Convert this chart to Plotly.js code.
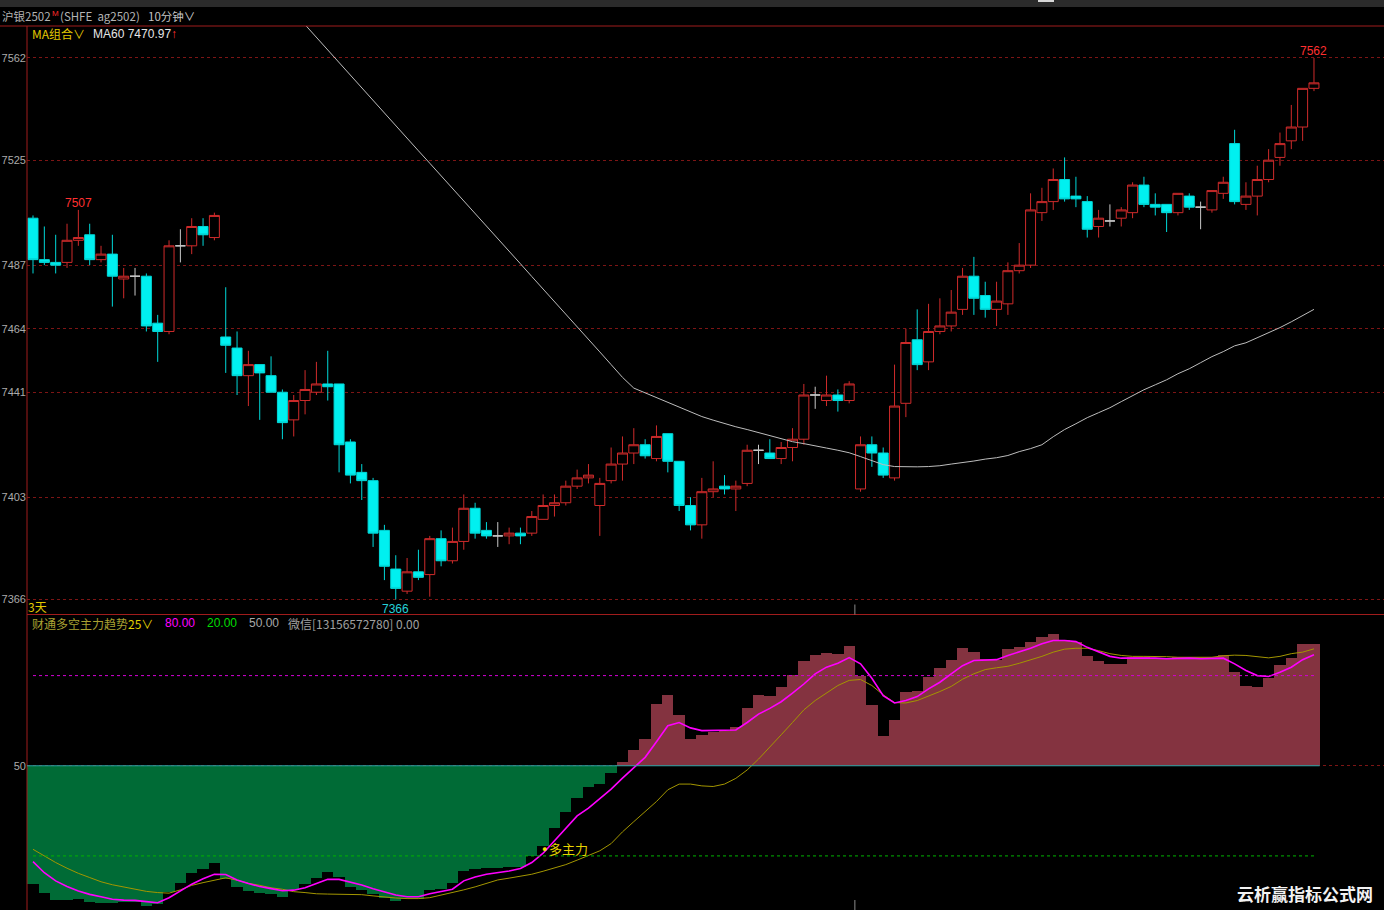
<!DOCTYPE html>
<html><head><meta charset="utf-8">
<script src="https://cdn.plot.ly/plotly-3.0.1.min.js"></script>
<style>html,body{margin:0;padding:0;background:#000;overflow:hidden}#chart{width:1384px;height:910px}</style>
</head><body><div id="chart"></div>
<script>
// ---------- data (10-minute candles, 沪银2502) ----------
const opens = [7504,7489,7488,7488,7496,7498,7489,7491,7482,7483,
7483,7466,7463,7494,7494,7501,7497,7461,7457,7447,
7451,7447,7441,7431,7438,7441,7444,7444,7423,7412,
7409,7391,7377,7369,7376,7375,7388,7380,7387,7399,
7391,7389,7389,7390,7390,7395,7400,7401,7407,7410,
7400,7409,7415,7419,7422,7417,7426,7416,7400,7393,
7405,7407,7406,7408,7420,7419,7417,7421,7424,7440,
7438,7440,7438,7406,7422,7419,7410,7437,7460,7452,
7463,7465,7471,7483,7476,7471,7473,7485,7487,7506,
7510,7518,7512,7510,7501,7503,7504,7506,7516,7509,
7509,7506,7512,7508,7507,7513,7531,7509,7512,7518,
7526,7532,7537,7551];
const highs = [7505,7501,7498,7502,7507,7502,7494,7498,7486,7486,
7484,7469,7496,7500,7504,7504,7506,7479,7463,7456,
7451,7454,7442,7440,7449,7452,7456,7444,7424,7415,
7410,7393,7382,7381,7384,7389,7391,7392,7404,7401,
7394,7394,7392,7392,7398,7404,7404,7409,7413,7415,
7410,7421,7425,7428,7424,7429,7426,7416,7403,7410,
7416,7411,7409,7422,7422,7424,7423,7428,7444,7443,
7447,7442,7445,7425,7425,7421,7451,7464,7471,7473,
7475,7478,7486,7490,7481,7481,7488,7495,7513,7515,
7522,7526,7519,7512,7507,7509,7508,7517,7519,7513,
7509,7513,7513,7510,7514,7519,7536,7517,7523,7529,
7535,7545,7551,7562];
const lows = [7484,7487,7484,7486,7494,7487,7488,7472,7475,7476,
7463,7452,7462,7488,7491,7494,7496,7448,7440,7436,
7431,7441,7424,7425,7433,7440,7438,7412,7408,7402,
7385,7373,7366,7368,7373,7367,7378,7379,7384,7388,
7388,7385,7386,7386,7389,7395,7396,7400,7406,7408,
7389,7408,7409,7415,7417,7416,7412,7398,7391,7388,
7403,7404,7398,7407,7415,7417,7415,7416,7422,7435,
7436,7434,7437,7405,7414,7410,7409,7432,7449,7449,
7462,7463,7469,7469,7468,7465,7469,7484,7486,7503,
7507,7510,7508,7497,7497,7501,7501,7504,7508,7505,
7499,7505,7507,7500,7506,7511,7509,7507,7505,7517,
7523,7529,7532,7550];
const closes = [7489,7488,7487,7496,7497,7489,7491,7483,7483,7483,
7465,7463,7494,7494,7501,7498,7505,7458,7447,7451,
7448,7441,7430,7438,7442,7444,7443,7422,7411,7409,
7390,7378,7370,7376,7374,7388,7380,7387,7399,7390,
7389,7389,7390,7389,7396,7400,7401,7407,7410,7411,
7408,7415,7419,7422,7418,7425,7416,7400,7393,7405,
7406,7406,7407,7420,7420,7417,7421,7424,7440,7440,
7440,7438,7444,7422,7419,7411,7436,7459,7451,7463,
7465,7470,7483,7475,7471,7474,7485,7487,7507,7510,
7518,7511,7511,7500,7504,7503,7507,7516,7509,7508,
7506,7513,7508,7508,7514,7517,7510,7512,7518,7525,
7531,7537,7551,7553];
// MA60 (null where above the visible window start)
const ma60 = [null,null,null,null,null,null,null,null,null,null,
null,null,null,null,null,null,null,null,null,null,
null,null,null,7578.6,7574.0,7569.5,7564.9,7560.3,7555.8,7551.2,
7546.7,7542.1,7537.6,7533.0,7528.4,7523.9,7519.4,7514.8,7510.2,7505.7,
7501.1,7496.6,7492.1,7487.5,7482.9,7478.4,7473.8,7469.2,7464.7,7460.1,
7455.6,7451.0,7446.4,7442.5,7440.8,7439.0,7437.4,7435.8,7434.0,7432.2,
7430.9,7429.6,7428.5,7427.5,7426.4,7425.3,7424.2,7423.1,7422.4,7421.7,
7420.8,7420.0,7419.1,7417.7,7416.2,7414.8,7414.1,7414.0,7414.0,7414.1,
7414.4,7415.0,7415.5,7416.1,7416.8,7417.3,7418.1,7419.5,7420.6,7422.0,
7424.9,7427.5,7429.6,7431.8,7433.6,7435.4,7437.6,7439.8,7441.9,7443.7,
7445.5,7447.7,7449.5,7451.7,7453.9,7455.7,7457.8,7458.9,7460.7,7462.5,
7464.4,7466.5,7468.7,7471.0];
// 财通多空主力趋势 indicator
const trendBars = [10.6,7.8,5.3,5.3,5.6,4.7,4.2,4.4,4.7,4.7,
3.3,3.9,8.0,11.1,14.2,15.8,17.8,12.2,9.8,8.3,
7.8,7.2,6.4,8.7,10.6,12.8,14.7,13.1,9.8,8.7,
7.2,6.1,5.0,5.8,5.8,8.7,9.1,11.1,15.0,15.6,
15.9,15.9,16.4,16.4,20.0,23.3,29.4,34.7,39.4,42.8,
43.9,47.6,51.3,55.2,58.9,70.6,73.6,67.0,58.9,60.2,
61.1,61.7,62.8,69.1,73.6,73.3,76.3,80.3,84.7,86.9,
87.6,87.2,89.8,80.0,70.2,59.8,65.3,74.7,75.0,79.4,
82.4,85.3,89.2,88.0,85.6,85.3,88.7,89.4,91.1,92.8,
93.9,91.7,91.1,86.4,84.8,83.7,83.9,86.1,86.1,85.6,
85.6,86.1,86.1,86.1,86.1,86.7,81.3,76.4,76.3,79.1,
83.6,85.8,90.6,90.6];
const trendFast = [18.1,14.4,11.7,9.8,8.3,7.2,6.4,5.6,5.3,5.2,
4.8,4.4,6.1,8.3,10.6,12.4,13.9,13.8,12.0,10.8,
9.8,9.1,8.4,8.6,9.4,10.8,12.2,12.2,11.3,10.3,
9.1,8.0,7.0,6.4,6.4,7.4,8.2,8.9,11.7,13.0,
13.9,14.4,15.0,15.8,17.8,20.9,25.0,29.2,33.3,35.9,
38.9,42.2,45.9,49.4,52.8,58.0,63.3,64.4,62.6,61.7,
61.7,61.7,61.9,64.4,67.2,69.1,71.3,74.2,77.2,80.6,
82.8,84.1,86.0,83.9,79.1,73.3,70.9,71.7,73.0,75.6,
77.8,80.6,83.3,85.0,85.2,85.3,86.7,87.8,89.1,90.6,
91.7,91.7,91.3,89.4,87.8,86.4,85.8,85.8,85.9,85.8,
85.6,85.8,85.8,85.6,85.8,85.8,83.9,81.7,80.0,79.7,
81.1,82.8,85.3,86.9];
const trendSlow = [22.2,20.0,17.8,15.9,14.2,12.8,11.4,10.4,9.6,8.9,
8.2,7.8,7.6,8.7,10.2,11.1,12.0,12.7,11.9,10.9,
10.2,9.4,8.9,8.1,7.8,7.4,7.3,7.3,7.2,7.1,
6.7,6.3,6.0,5.8,5.8,6.1,6.9,7.7,8.7,9.7,
10.8,12.0,12.6,13.2,13.9,14.9,16.0,17.1,18.6,20.2,
21.7,24.1,28.0,31.4,34.7,38.1,42.0,43.9,43.9,43.3,
43.1,43.9,45.8,48.6,52.2,56.1,60.3,64.4,68.6,71.7,
74.2,76.7,78.4,78.7,76.7,73.6,71.0,70.9,71.7,73.1,
74.7,76.4,78.8,80.6,82.0,82.6,83.1,84.1,85.2,86.4,
87.8,88.8,89.1,89.1,88.3,87.3,86.7,86.4,86.4,86.4,
86.3,86.1,86.1,86.1,86.1,86.6,86.8,86.7,86.2,85.9,
86.4,87.3,87.8,88.9];
const priceTicks = [7366,7403,7441,7464,7487,7525,7562];
const trendTicks = [50];
const levelHigh = 80, levelMid = 50, levelLow = 20;
const firstSessionLen = 17;   // candles before the first session break
const dayBreak = 73;          // first candle of the new trading day

// ---------- geometry helpers ----------
const W = 1384, H = 910, ML = 27, MT = 26;
const PW = W - ML, PH = H - MT;
const px = x => (x - ML) / PW;
const py = y => (H - y) / PH;
const split = py(614.5);

const idx = opens.map((_, i) => i);
const n = idx.length;
const mainIdx = idx.filter(i => opens[i] !== closes[i]);
const dojiIdx = idx.filter(i => opens[i] === closes[i]);
const pick = (arr, sel) => sel.map(i => arr[i]);

const RED = '#cf2b2b', CYAN = '#00f0f0';
const BAR_RED = '#843340', BAR_GREEN = '#006b36';
const GRID_RED = '#7d1515';

const traces = [
  {type:'bar', x: idx, y: trendBars.map(v => v - levelMid), base: levelMid, width: 1,
   marker:{color: trendBars.map(v => v >= levelMid ? BAR_RED : BAR_GREEN), line:{width:0}},
   xaxis:'x', yaxis:'y2', hoverinfo:'skip'},
  {type:'scatter', mode:'lines', x: idx, y: trendSlow, line:{color:'#a39600', width:1},
   xaxis:'x', yaxis:'y2', hoverinfo:'skip'},
  {type:'scatter', mode:'lines', x: idx, y: trendFast, line:{color:'#ff00ff', width:1.6},
   xaxis:'x', yaxis:'y2', hoverinfo:'skip'},
  {type:'scatter', mode:'lines', x: idx, y: ma60, line:{color:'#bdbdbd', width:1},
   xaxis:'x', yaxis:'y', hoverinfo:'skip', connectgaps:false},
  {type:'candlestick', x: mainIdx, open: pick(opens, mainIdx), high: pick(highs, mainIdx),
   low: pick(lows, mainIdx), close: pick(closes, mainIdx),
   increasing:{line:{color:RED, width:1}, fillcolor:'#000000'},
   decreasing:{line:{color:'#00d8d8', width:1}, fillcolor:CYAN},
   xaxis:'x', yaxis:'y', hoverinfo:'skip'},
  {type:'candlestick', x: dojiIdx, open: pick(opens, dojiIdx), high: pick(highs, dojiIdx),
   low: pick(lows, dojiIdx), close: pick(closes, dojiIdx),
   increasing:{line:{color:'#c8c8c8', width:1}, fillcolor:'#c8c8c8'},
   decreasing:{line:{color:'#c8c8c8', width:1}, fillcolor:'#c8c8c8'},
   xaxis:'x', yaxis:'y', hoverinfo:'skip'}
];

const shapes = [
  {type:'rect', xref:'paper', yref:'paper', x0:px(0), x1:px(W), y0:py(0), y1:py(7), fillcolor:'#2b2b2b', line:{width:0}, layer:'below'},
  {type:'rect', xref:'paper', yref:'paper', x0:px(1038), x1:px(1054), y0:py(0), y1:py(2), fillcolor:'#d8d8d8', line:{width:0}},
  {type:'line', xref:'paper', yref:'paper', x0:px(0), x1:px(W), y0:1, y1:1, line:{color:'#a01c1c', width:1}},
  {type:'line', xref:'paper', yref:'paper', x0:0, x1:1, y0:split, y1:split, line:{color:'#a01c1c', width:1}},
  {type:'line', xref:'paper', yref:'paper', x0:0, x1:0, y0:0, y1:1, line:{color:'#a01c1c', width:1}},
  {type:'line', xref:'x', yref:'y2', x0:-0.53, x1:n - 0.5, y0:levelMid, y1:levelMid, line:{color:'#27a7a7', width:1}},
  {type:'line', xref:'x', yref:'y2', x0:0, x1:n - 1, y0:levelHigh, y1:levelHigh, line:{color:'#d400d4', width:1, dash:'dot'}},
  {type:'line', xref:'x', yref:'y2', x0:0, x1:n - 1, y0:levelLow, y1:levelLow, line:{color:'#00b400', width:1, dash:'dot'}},
  {type:'line', xref:'x', yref:'paper', x0:dayBreak - 0.5, x1:dayBreak - 0.5, y0:split, y1:split + 10 / PH, line:{color:'#8a8a8a', width:1}},
  {type:'line', xref:'x', yref:'paper', x0:dayBreak - 0.5, x1:dayBreak - 0.5, y0:0, y1:10 / PH, line:{color:'#8a8a8a', width:1}}
];

const CJK = '"Noto Sans CJK SC", "Liberation Sans", sans-serif';
const SANS = '"Liberation Sans", "Noto Sans CJK SC", sans-serif';
const txt = (text, x, y, color, size, family) => ({
  text, xref:'paper', yref:'paper', x: px(x), y: py(y), xanchor:'left', yanchor:'middle',
  showarrow:false, font:{family: family || CJK, size: size || 12, color}, borderpad:0
});

const hiIdx = highs.indexOf(Math.max(...highs));
const loIdx = lows.indexOf(Math.min(...lows));
const firstHi = highs.slice(0, firstSessionLen);
const firstHiIdx = firstHi.indexOf(Math.max(...firstHi));
const signalIdx = trendFast.findIndex(v => v > levelLow);

const annotations = [
  txt('沪银2502', 1, 16, '#b4b4b4', 11.5),
  txt('M', 51, 13, '#ff2a2a', 8, SANS),
  txt('(SHFE  ag2502)', 59, 16, '#b4b4b4', 11.5),
  txt('10分钟∨', 147, 16, '#c4c4c4', 11.5),
  txt('MA组合∨', 31, 34, '#e2c800', 12),
  txt('MA60 7470.97', 92, 34, '#e6e6e6', 12, SANS),
  txt('↑', 170, 34, '#ff3030', 12, SANS),
  txt('3天', 27, 606, '#e2c800', 12),
  txt('财通多空主力趋势', 31, 623, '#aaa032', 12),
  txt('25∨', 127, 623, '#e2d000', 12),
  txt('80.00', 164, 623, '#ff00ff', 12, SANS),
  txt('20.00', 206, 623, '#00dd00', 12, SANS),
  txt('50.00', 248, 623, '#a8a8a8', 12, SANS),
  txt('微信[13156572780] 0.00', 287, 623, '#a0a0a0', 12),
  txt('<b>云析赢指标公式网</b>', 1236, 893, '#f2f2f2', 17),
  {text: String(highs[firstHiIdx]), x: firstHiIdx, y: highs[firstHiIdx], xref:'x', yref:'y', yanchor:'bottom',
   yshift: -2, showarrow:false, font:{family: SANS, size:12, color:'#ff3030'}},
  {text: String(highs[hiIdx]), x: hiIdx, y: highs[hiIdx], xref:'x', yref:'y', yanchor:'bottom',
   yshift: -2, showarrow:false, font:{family: SANS, size:12, color:'#ff3030'}},
  {text: String(lows[loIdx]), x: loIdx, y: lows[loIdx], xref:'x', yref:'y', yanchor:'top',
   yshift: -1, showarrow:false, font:{family: SANS, size:12, color:'#25d0d8'}},
  {text: '●', x: signalIdx - 0.25, y: trendFast[signalIdx] + 1.5, xref:'x', yref:'y2',
   xanchor:'left', yanchor:'middle', showarrow:false, font:{family: SANS, size:9, color:'#f5e000'}},
  {text: '多主力', x: signalIdx + 0.35, y: trendFast[signalIdx] + 1.5, xref:'x', yref:'y2',
   xanchor:'left', yanchor:'middle', showarrow:false, font:{family: CJK, size:13, color:'#e8d400'}}
];

const layout = {
  width: W, height: H, paper_bgcolor:'#000', plot_bgcolor:'#000',
  margin:{l: ML, r: 0, t: MT, b: 0}, showlegend:false,
  bargap: 0, boxgap: 0.12, boxgroupgap: 0, boxmode:'overlay',
  xaxis:{range:[-0.53, (W - 33) / 11.336], showgrid:false, zeroline:false, showticklabels:false,
         ticks:'', showline:false, rangeslider:{visible:false}, anchor:'y2', fixedrange:true},
  yaxis:{domain:[split, 1], range:[7360.55, 7573.57], tickvals: priceTicks, ticktext: priceTicks.map(String),
         tickfont:{family: SANS, size: 11, color:'#ababab'}, gridcolor: GRID_RED, griddash:'dot', gridwidth:1,
         zeroline:false, ticks:'', showline:false, anchor:'x', fixedrange:true},
  yaxis2:{domain:[0, split], range:[2, 100.33], tickvals: trendTicks, ticktext: trendTicks.map(String),
         tickfont:{family: SANS, size: 11, color:'#ababab'}, gridcolor: GRID_RED, griddash:'dot', gridwidth:1,
         zeroline:false, ticks:'', showline:false, anchor:'x', fixedrange:true},
  shapes, annotations
};

Plotly.newPlot('chart', traces, layout, {displayModeBar:false, staticPlot:true});
</script></body></html>
